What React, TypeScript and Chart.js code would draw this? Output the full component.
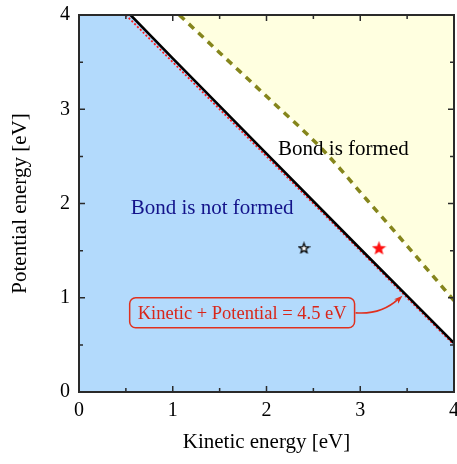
import React, { useEffect, useRef } from 'react';
import { Chart, registerables } from 'chart.js';
Chart.register(...registerables);

// ---- data ----
const axisMin = 0;
const axisMax = 4;
const majorTicks = [0, 1, 2, 3, 4];
const minorTicks = [0.5, 1.5, 2.5, 3.5];

// threshold (solid black) curve
const kineticSolid = [0.55, 1, 2, 3, 3.5, 4];
const potentialSolid = [4, 3.54, 2.53, 1.52, 1.02, 0.52];

// Kinetic + Potential = 4.5 eV (red dotted)
const kineticSum = [0.5, 4];
const potentialSum = [4, 0.5];

// upper (olive dashed) curve
const kineticDashed = [1.07, 1.5, 2.04, 2.6, 3.07, 3.5, 4];
const potentialDashed = [4, 3.6, 3.1, 2.57, 2.04, 1.55, 0.97];

// star markers
const starKinetic = [2.4, 3.2];
const starPotential = [1.53, 1.53];

// text labels
const labelNotFormed = { text: 'Bond is not formed', x: 1.42, y: 1.95 };
const labelFormed = { text: 'Bond is formed', x: 2.82, y: 2.57 };
const annotation = { text: 'Kinetic + Potential = 4.5 eV', x: 1.74, y: 0.84, tipX: 3.45, tipY: 1.02 };

const SERIF = '"Liberation Serif", "Times New Roman", serif';

function pts(xs: number[], ys: number[]) {
  return xs.map((x, i) => ({ x, y: ys[i] }));
}

function makeStar(size: number, fill: string, stroke: string | null, lw: number) {
  const c = document.createElement('canvas');
  c.width = size;
  c.height = size;
  const ctx = c.getContext('2d')!;
  const cx = size / 2;
  const cy = size / 2 + size * 0.05;
  const R = size / 2 - lw;
  const r = R * 0.42;
  ctx.beginPath();
  for (let i = 0; i < 10; i++) {
    const a = -Math.PI / 2 + (i * Math.PI) / 5;
    const rad = i % 2 === 0 ? R : r;
    ctx.lineTo(cx + rad * Math.cos(a), cy + rad * Math.sin(a));
  }
  ctx.closePath();
  ctx.fillStyle = fill;
  ctx.fill();
  if (stroke) {
    ctx.strokeStyle = stroke;
    ctx.lineWidth = lw;
    ctx.lineJoin = 'miter';
    ctx.stroke();
  }
  return c;
}

const decorPlugin = {
  id: 'decor',
  afterDatasetsDraw(chart: any) {
    const ctx = chart.ctx;
    const xs = chart.scales.x;
    const ys = chart.scales.y;
    ctx.save();
    ctx.textAlign = 'center';
    ctx.textBaseline = 'middle';
    ctx.font = `21px ${SERIF}`;
    ctx.fillStyle = '#13138a';
    ctx.fillText(labelNotFormed.text, xs.getPixelForValue(labelNotFormed.x), ys.getPixelForValue(labelNotFormed.y));
    ctx.fillStyle = '#000';
    ctx.fillText(labelFormed.text, xs.getPixelForValue(labelFormed.x), ys.getPixelForValue(labelFormed.y));

    // annotation box
    ctx.font = `18.5px ${SERIF}`;
    const ax = xs.getPixelForValue(annotation.x);
    const ay = ys.getPixelForValue(annotation.y);
    const tw = ctx.measureText(annotation.text).width;
    const bw = tw + 16;
    const bh = 30;
    const bx = ax - bw / 2;
    const by = ay - bh / 2;
    const rr = 6;
    ctx.beginPath();
    ctx.moveTo(bx + rr, by);
    ctx.lineTo(bx + bw - rr, by);
    ctx.arcTo(bx + bw, by, bx + bw, by + rr, rr);
    ctx.lineTo(bx + bw, by + bh - rr);
    ctx.arcTo(bx + bw, by + bh, bx + bw - rr, by + bh, rr);
    ctx.lineTo(bx + rr, by + bh);
    ctx.arcTo(bx, by + bh, bx, by + bh - rr, rr);
    ctx.lineTo(bx, by + rr);
    ctx.arcTo(bx, by, bx + rr, by, rr);
    ctx.closePath();
    ctx.strokeStyle = '#e0301e';
    ctx.lineWidth = 1.5;
    ctx.stroke();
    ctx.fillStyle = '#d8261a';
    ctx.fillText(annotation.text, ax, ay + 1);

    // curved arrow
    const sx = bx + bw + 1;
    const sy = ay;
    const tx = xs.getPixelForValue(annotation.tipX);
    const ty = ys.getPixelForValue(annotation.tipY);
    const cpx = sx + (tx - sx) * 0.55;
    const cpy = sy + 2;
    ctx.beginPath();
    ctx.moveTo(sx, sy);
    ctx.quadraticCurveTo(cpx, cpy, tx - 4, ty + 3);
    ctx.strokeStyle = '#e0301e';
    ctx.lineWidth = 1.6;
    ctx.stroke();
    const ang = Math.atan2(ty - cpy, tx - cpx);
    const hl = 9;
    ctx.beginPath();
    ctx.moveTo(tx, ty);
    ctx.lineTo(tx - hl * Math.cos(ang - 0.35), ty - hl * Math.sin(ang - 0.35));
    ctx.lineTo(tx - hl * 0.7 * Math.cos(ang), ty - hl * 0.7 * Math.sin(ang));
    ctx.lineTo(tx - hl * Math.cos(ang + 0.35), ty - hl * Math.sin(ang + 0.35));
    ctx.closePath();
    ctx.fillStyle = '#e0301e';
    ctx.fill();
    ctx.restore();
  },
  afterDraw(chart: any) {
    const ctx = chart.ctx;
    const { left, right, top, bottom } = chart.chartArea;
    const xs = chart.scales.x;
    const ys = chart.scales.y;
    ctx.save();
    ctx.strokeStyle = '#2a2a2a';
    ctx.lineWidth = 1.5;
    const tick = (v: number, len: number) => {
      const px = xs.getPixelForValue(v);
      const py = ys.getPixelForValue(v);
      ctx.beginPath();
      ctx.moveTo(px, bottom); ctx.lineTo(px, bottom - len);
      ctx.moveTo(px, top); ctx.lineTo(px, top + len);
      ctx.moveTo(left, py); ctx.lineTo(left + len, py);
      ctx.moveTo(right, py); ctx.lineTo(right - len, py);
      ctx.stroke();
    };
    majorTicks.forEach((v) => tick(v, 6));
    minorTicks.forEach((v) => tick(v, 4));
    ctx.lineWidth = 2;
    ctx.strokeRect(left, top, right - left, bottom - top);
    ctx.restore();
  },
};

export default function App() {
  const ref = useRef<HTMLCanvasElement | null>(null);
  useEffect(() => {
    if (!ref.current) return;
    const whiteStar = makeStar(13, '#ffffff', '#000000', 1.3);
    const redStar = makeStar(15, '#ff1010', null, 0);
    const chart = new Chart(ref.current, {
      type: 'scatter',
      data: {
        datasets: [
          {
            label: 'stars',
            data: pts(starKinetic, starPotential),
            pointStyle: [whiteStar, redStar] as any,
            pointRadius: 7,
            showLine: false,
            order: 1,
          },
          {
            label: 'sum',
            data: pts(kineticSum, potentialSum),
            showLine: true,
            borderColor: '#ff1a1a',
            borderWidth: 1.8,
            borderDash: [2, 2],
            pointRadius: 0,
            fill: false,
            order: 3,
          },
          {
            label: 'solid',
            data: pts(kineticSolid, potentialSolid),
            showLine: true,
            borderColor: '#000000',
            borderWidth: 2.6,
            pointRadius: 0,
            fill: false,
            order: 2,
          },
          {
            label: 'dashed',
            data: pts(kineticDashed, potentialDashed),
            showLine: true,
            borderColor: '#85851c',
            borderWidth: 3.5,
            borderDash: [7, 6],
            cubicInterpolationMode: 'monotone',
            pointRadius: 0,
            fill: false,
            order: 4,
          },
          {
            label: 'blueFill',
            data: [{ x: axisMin, y: axisMax }, ...pts(kineticSolid, potentialSolid)],
            showLine: true,
            borderWidth: 0,
            borderColor: 'rgba(0,0,0,0)',
            backgroundColor: '#b3dafc',
            pointRadius: 0,
            fill: 'start',
            order: 10,
          },
          {
            label: 'yellowFill',
            data: pts(kineticDashed, potentialDashed),
            showLine: true,
            borderWidth: 0,
            borderColor: 'rgba(0,0,0,0)',
            backgroundColor: '#ffffe0',
            cubicInterpolationMode: 'monotone',
            pointRadius: 0,
            fill: 'end',
            order: 11,
          },
        ] as any,
      },
      options: {
        animation: false,
        responsive: false,
        devicePixelRatio: 1,
        layout: { autoPadding: false, padding: { top: 15, right: 3, left: 0, bottom: 0 } },
        plugins: {
          legend: { display: false },
          tooltip: { enabled: false },
        },
        scales: {
          x: {
            type: 'linear',
            min: axisMin,
            max: axisMax,
            grid: { display: false, drawTicks: false },
            border: { display: false },
            ticks: {
              stepSize: 1,
              padding: 7,
              color: '#000',
              font: { family: SERIF, size: 20 },
            },
            title: {
              display: true,
              text: 'Kinetic energy [eV]',
              color: '#000',
              font: { family: SERIF, size: 21 },
              padding: { top: 0, bottom: 9 },
            },
            afterFit: (s: any) => { s.height = 72; s.paddingLeft = 0; s.paddingRight = 0; },
          },
          y: {
            type: 'linear',
            min: axisMin,
            max: axisMax,
            grid: { display: false, drawTicks: false },
            border: { display: false },
            ticks: {
              stepSize: 1,
              padding: 9,
              color: '#000',
              font: { family: SERIF, size: 20 },
            },
            title: {
              display: true,
              text: 'Potential energy [eV]',
              color: '#000',
              font: { family: SERIF, size: 21 },
              padding: { top: 8, bottom: 0 },
            },
            afterFit: (s: any) => { s.width = 79; s.paddingTop = 0; s.paddingBottom = 0; },
          },
        },
      } as any,
      plugins: [decorPlugin],
    });
    return () => chart.destroy();
  }, []);
  return (
    <div style={{ position: 'fixed', left: 0, top: 0, width: 457, height: 464, background: '#fff' }}>
      <canvas ref={ref} width={457} height={464} style={{ display: 'block' }} />
    </div>
  );
}
